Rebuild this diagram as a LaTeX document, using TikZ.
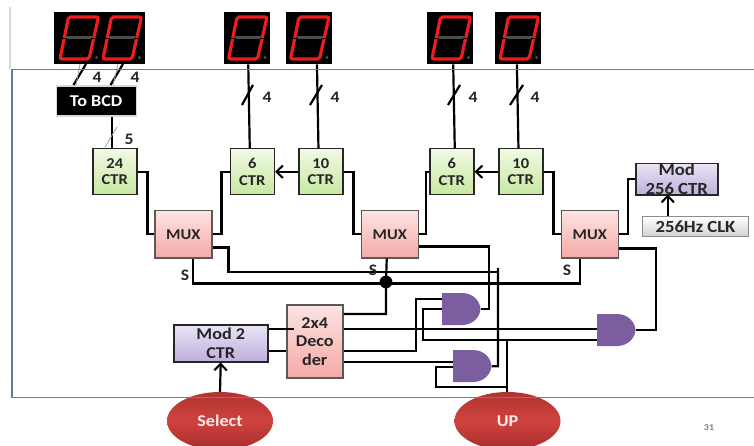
\documentclass[tikz,border=0pt]{standalone}
\usepackage{fontspec}
\setmainfont[FakeStretch=1.1]{Carlito}
\usetikzlibrary{arrows.meta,calc,shapes.geometric}
\definecolor{frameblue}{HTML}{5F7FA8}
\definecolor{segred}{HTML}{EE1C1C}
\definecolor{gatepurple}{HTML}{7B5EA0}
\definecolor{greentop}{HTML}{F2F9E4}
\definecolor{greenbot}{HTML}{C6E8A0}
\definecolor{redtop}{HTML}{FCE4E2}
\definecolor{redbot}{HTML}{F5A9A6}
\definecolor{purptop}{HTML}{EAE4F5}
\definecolor{purpbot}{HTML}{BFAEDC}
\definecolor{ovaltop}{HTML}{B03431}
\definecolor{ovalmid}{HTML}{CF423E}
\definecolor{ovalbot}{HTML}{A52E2B}
\tikzset{
  x=1pt,y=-1pt,
  lab/.style={font=\fontsize{16}{17}\selectfont\bfseries,text=black!85,inner sep=0},
  boxbase/.style={draw=black!85,line width=1.5pt,anchor=north west,inner sep=0,align=center,
     font=\fontsize{15}{16.5}\selectfont\bfseries,text=black!85},
  ctr/.style={boxbase,top color=greentop,bottom color=greenbot,minimum width=44pt,minimum height=46pt},
  muxbox/.style={boxbase,draw=black!65,top color=redtop,bottom color=redbot,minimum width=57pt,minimum height=47pt},
  purplebox/.style={boxbase,top color=purptop,bottom color=purpbot,font=\fontsize{16.5}{18.5}\selectfont\bfseries},
  wire/.style={draw=black,line width=2.2pt,line join=miter},
  arrowwire/.style={wire,-{Straight Barb[length=6.5pt,width=12.5pt,line width=2pt]}},
  slash/.style={draw=black,line width=2.2pt},
  faint/.style={draw=frameblue!70,line width=0.8pt},
  oval/.style={ellipse,minimum width=106pt,minimum height=58pt,inner sep=0,top color=ovaltop,bottom color=ovalbot,middle color=ovalmid,
     font=\fontsize{16.5}{17}\selectfont\bfseries,text=white!92!red},
  display/.style={fill=black,draw=none,anchor=north west,inner sep=0,minimum height=52pt},
}
\newcommand{\sevenseg}[1]{%
  \draw[gray!60!black,line width=3pt] (#1+6,38) -- (#1+32,38);
  \draw[segred,line width=3.2pt,rounded corners=2pt] (#1,59) -- (#1+29,59) -- (#1+38.5,17) -- (#1+8.5,17) -- cycle;
  \draw[black,line width=0.8pt] (#1+1,38) -- (#1+7,38) (#1+31,38) -- (#1+37,38);
  \fill[gray!60!black] (#1+36.5,57.5) circle (1.7);
}
\newcommand{\andgate}[5]{%
  \fill[gatepurple] (#2,#3) -- (#2+20,#3) .. controls (#2+31,#3) and (#2+38,#3+8) .. (#2+38.5,#3+16)
     .. controls (#2+38,#3+24) and (#2+31,#3+32) .. (#2+20,#3+32) -- (#2,#3+32) -- cycle;
  \node[inner sep=0,minimum width=38.5pt,minimum height=32pt,anchor=north west] (#1) at (#2,#3) {};
  \coordinate (#1 a) at (#2,#3+#4);
  \coordinate (#1 b) at (#2,#3+#5);
}
\begin{document}
\begin{tikzpicture}
\useasboundingbox (0,0) rectangle (754,446);
\clip (0,0) rectangle (754,446);
\fill[white] (0,0) rectangle (754,446);
\draw[black!15,line width=1.2pt] (10,7) -- (10,69);

\node[oval] (sel) at (220,421) {Select};
\node[oval] (up) at (507.5,421) {UP};

\node[display,minimum width=91pt] (d1) at (54,12) {};
\node[display,minimum width=46.5pt] (d2) at (223.5,12) {};
\node[display,minimum width=46.5pt] (d3) at (285.5,12) {};
\node[display,minimum width=46pt] (d4) at (427,12) {};
\node[display,minimum width=46pt] (d5) at (495,12) {};
\sevenseg{60}\sevenseg{103}\sevenseg{228.5}\sevenseg{290.5}\sevenseg{432}\sevenseg{500}

\node[boxbase,fill=black,draw=white!85!black,line width=1.2pt,minimum width=80pt,minimum height=30pt,text=white,font=\fontsize{16.5}{17}\selectfont\bfseries] (bcd) at (55.5,85.5) {To BCD};
\node[ctr] (c24) at (92,148) {24\\CTR};
\node[ctr] (c6a) at (229.5,148) {6\\CTR};
\node[ctr] (c10a) at (298,148) {10\\CTR};
\node[ctr] (c6b) at (429,148) {6\\CTR};
\node[ctr] (c10b) at (498,148) {10\\CTR};
\node[purplebox,minimum width=82pt,minimum height=31pt,font=\fontsize{17}{19}\selectfont\bfseries] (m256) at (635,163) {Mod\\256 CTR};
\node[boxbase,draw=black!45,line width=1pt,top color=white,bottom color=black!18,minimum width=106pt,minimum height=20pt,font=\fontsize{17}{18}\selectfont\bfseries] (clk) at (642,216) {256Hz CLK};
\node[muxbox] (m1) at (154,210) {MUX};
\node[muxbox] (m2) at (360.5,210) {MUX};
\node[muxbox] (m3) at (560.5,210) {MUX};
\node[muxbox,minimum width=56pt,minimum height=73pt,font=\fontsize{16.5}{18.5}\selectfont\bfseries] (dec) at (286,304) {2x4\\Deco\\der};
\node[purplebox,minimum width=94pt,minimum height=37pt] (m2c) at (173,324) {Mod 2\\CTR};

\andgate{g1}{442}{293}{6}{16}
\andgate{g2}{453}{350}{12}{17}
\andgate{g3}{597}{314}{15}{26}

\coordinate (jn) at (386,282);
\coordinate (m1o) at ($(m1.south east)+(0,-11)$);
\coordinate (m2o) at ($(m2.south east)+(0,-12)$);
\coordinate (m3o) at ($(m3.south east)+(0,-10)$);
\coordinate (dec1) at ($(dec.north east)+(0,10)$);
\coordinate (dec2) at ($(dec.north east)+(0,25)$);
\coordinate (dec3) at ($(dec.north east)+(0,47)$);
\coordinate (dec4) at ($(dec.north east)+(0,58)$);
\coordinate (mdA) at ($(m2c.north east)+(0,5)$);
\coordinate (mdB) at ($(m2c.north east)+(0,27)$);
\coordinate (upT) at (507,392);
\coordinate (bcdw) at ($(bcd.south)+(15.5,0)$);

\draw[wire] ($(d2.south)+(1.3,0)$) -- ($(c6a.north)+(-2.5,0)$);
\draw[wire] ($(d3.south)+(8,0)$) -- ($(c10a.north)+(-2.3,0)$);
\draw[wire] ($(d4.south)+(3,0)$) -- ($(c6b.north)+(3,0)$);
\draw[wire] ($(d5.south)+(-1.3,0)$) -- ($(c10b.north)+(-2.3,0)$);
\draw[wire] (bcdw) -- (bcdw |- c24.north);
\draw[slash] (242,105) -- (253,85);
\draw[slash] (310,105) -- (322,85);
\draw[slash] (448,105) -- (460,85);
\draw[slash] (510,105) -- (523,85);
\draw[slash] (73.5,85) -- (86,64);
\draw[slash] (110.5,85) -- (123,64);
\draw[faint] (76,85) -- (80,64);
\draw[faint] (113,85) -- (118,64);
\draw[faint] (105,147) -- (117,127);

\draw[wire] (c24.east) -- ++(10,0) |- (m1.west);
\draw[wire] (m1.east) -- ++(9,0) |- (c6a.west);
\draw[wire] (c10a.east) -- ++(10,0) |- (m2.west);
\draw[wire] (m2.east) -- ++(7,0) |- (c6b.west);
\draw[wire] (c10b.east) -- ++(10,0) |- (m3.west);
\draw[wire] (m3.east) -- ++(9,0) |- ($(m256.north west)+(0,16)$);
\draw[arrowwire] (c10a.west) -- (c6a.east);
\draw[arrowwire] (c10b.west) -- (c6b.east);
\draw[arrowwire] (clk.north -| m256.south) ++(-9,0) -- ++(0,-21.5);

\draw[wire] ($(m1.south)+(10,0)$) -- ++(0,25) -| ($(m3.south)+(-10,0)$);
\draw[wire] (m2.south) ++(-3,0) -- (jn) |- (dec1);
\fill (jn) circle (6.4);

\draw[wire] (m1o) -- ++(16,0) |- (498,272);
\draw[wire] (g2.east) -- ++(6,0) -- (498,268);
\draw[wire] (m2o) -- ++(70,0) |- (g1.east);
\draw[wire] (m3o) -- ++(37,0) |- (g3.east);

\draw[wire] (dec2) -- (g3 a);
\draw[wire] (dec3) -- (416,351) |- (g1 a);
\draw[wire] (dec4) -- (g2 a);
\draw[wire] (mdA) -- ++(25,0);
\draw[wire] (mdB) -- (dec.west |- mdB);
\draw[arrowwire] (sel.north) -- (m2c.south);

\draw[wire] (g1 b) -- (423,309) -- (423,340) -- (g3 b);
\draw[wire] (upT) -- (507,340);
\draw[wire] (upT) ++(0,-5) -- (436,387) |- (g2 b);

\node[lab] (l1) at (97,77) {4};
\node[lab] (l2) at (135,77) {4};
\node[lab] (l3) at (267,97) {4};
\node[lab] (l4) at (335,97) {4};
\node[lab] (l5) at (473,97) {4};
\node[lab] (l6) at (535,97) {4};
\node[lab] (l7) at (129,139) {5};
\node[lab] (s1) at (185,275) {S};
\node[lab] (s2) at (373,270) {S};
\node[lab] (s3) at (567,270) {S};
\node[font=\fontsize{9}{10}\selectfont\bfseries,text=gray,inner sep=0] (pg) at (709,428) {31};

\draw[frameblue,line width=1.2pt] (754,69.5) -- (12,69.5) -- (12,397.5) -- (754,397.5);
\end{tikzpicture}
\end{document}
